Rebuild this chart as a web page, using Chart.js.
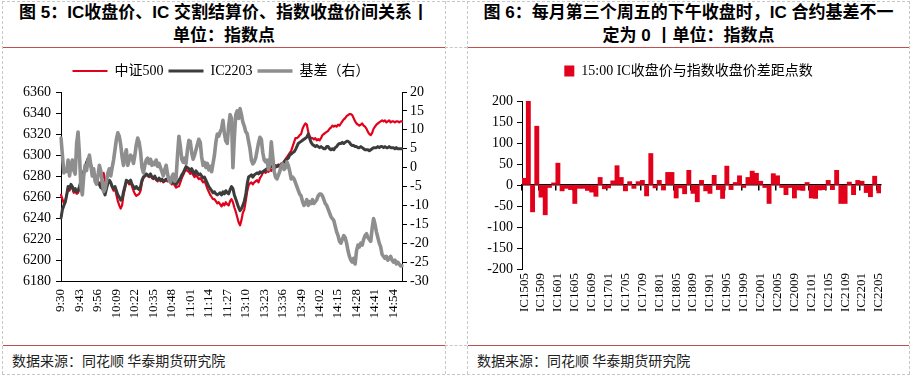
<!DOCTYPE html>
<html><head><meta charset="utf-8">
<script src="https://cdn.jsdelivr.net/npm/chart.js@4.4.1/dist/chart.umd.min.js"></script>
<style>
html,body{margin:0;padding:0;background:#fff;width:913px;height:378px;overflow:hidden;position:relative;font-family:"Liberation Sans","Noto Sans CJK SC",sans-serif;}
.dh{position:absolute;height:0;border-top:1px dashed #c8c8c8;}
.dv{position:absolute;width:0;border-left:1px dashed #c8c8c8;}
.red{position:absolute;height:0;border-top:1px solid #C0504D;}
.title{position:absolute;text-align:center;font-weight:bold;font-size:17px;line-height:23px;color:#000;white-space:nowrap;}
.src{position:absolute;font-family:"Noto Sans CJK SC",sans-serif;font-size:14px;line-height:20px;color:#222;}
.cv{position:absolute;}
</style></head><body>
<div class="dh" style="left:2px;top:1px;width:908px"></div>
<div class="dh" style="left:2px;top:374px;width:908px"></div>
<div class="dh" style="left:445px;top:47px;width:22px"></div>
<div class="dh" style="left:445px;top:345px;width:22px"></div>
<div class="dv" style="left:2px;top:1px;height:373px"></div>
<div class="dv" style="left:445px;top:1px;height:373px"></div>
<div class="dv" style="left:467px;top:1px;height:373px"></div>
<div class="dv" style="left:909px;top:1px;height:373px"></div>
<div class="red" style="left:3px;top:47px;width:442px"></div>
<div class="red" style="left:3px;top:345px;width:442px"></div>
<div class="red" style="left:468px;top:47px;width:441px"></div>
<div class="red" style="left:468px;top:345px;width:441px"></div>
<div class="title" style="left:3px;top:1px;width:442px">图 5：IC收盘价、IC 交割结算价、指数收盘价间关系丨<br>单位：指数点</div>
<div class="title" style="left:467px;top:1px;width:443px">图 6：每月第三个周五的下午收盘时，IC 合约基差不一<br>定为 0 丨单位：指数点</div>
<div class="src" style="left:12px;top:350px">数据来源：同花顺 华泰期货研究院</div>
<div class="src" style="left:477px;top:350px">数据来源：同花顺 华泰期货研究院</div>
<canvas id="c1" class="cv" width="442" height="293" style="left:3px;top:50px;width:442px;height:293px"></canvas>
<canvas id="c2" class="cv" width="443" height="293" style="left:467px;top:50px;width:443px;height:293px"></canvas>
<script>
// ---------- Chart 1 data ----------
const timeLabels = [];
(function(){
  function pad(m){return m<10?'0'+m:''+m;}
  for(let t=9*60+30;t<=11*60+30;t++) timeLabels.push(Math.floor(t/60)+':'+pad(t%60));
  for(let t=13*60+1;t<=15*60;t++) timeLabels.push(Math.floor(t/60)+':'+pad(t%60));
})();
const csi500 = [
6262,6258,6254,6256,6262,6268,6266,6270,6268,6264,
6266,6263,6264,6268,6274,6279,6283,6287,6292,6297,
6296,6291,6286,6281,6279,6278,6275,6273,6272,6278,
6283,6276,6270,6272,6275,6273,6269,6266,6268,6262,
6256,6252,6249,6252,6262,6268,6275,6274,6272,6274,
6270,6266,6263,6261,6262,6263,6266,6274,6278,6280,
6281,6280,6279,6281,6278,6277,6279,6276,6275,6277,
6275,6276,6274,6275,6276,6275,6277,6274,6272,6274,
6271,6269,6270,6270,6274,6278,6281,6284,6286,6285,
6284,6282,6284,6281,6279,6281,6279,6277,6278,6276,
6274,6275,6272,6268,6265,6262,6260,6258,6258,6256,
6254,6255,6253,6251,6254,6252,6255,6253,6252,6256,
6258,6255,6250,6246,6241,6236,6233,6238,6245,6248,
6256,6265,6271,6273,6274,6272,6274,6275,6276,6274,
6278,6280,6283,6284,6283,6285,6284,6286,6285,6287,
6286,6288,6289,6291,6290,6292,6292,6294,6296,6298,
6300,6302,6304,6308,6312,6316,6316,6317,6319,6320,
6325,6328,6330,6329,6322,6318,6316,6316,6315,6316,
6314,6315,6314,6316,6319,6320,6321,6322,6323,6325,
6326,6328,6327,6328,6327,6329,6328,6330,6332,6334,
6335,6337,6338,6339,6339,6338,6335,6332,6330,6329,
6328,6329,6330,6328,6327,6325,6322,6320,6319,6321,
6325,6327,6329,6330,6331,6332,6333,6332,6333,6331,
6332,6333,6331,6332,6332,6331,6332,6332,6331,6332,6332];
const ic2203 = [
6240,6248,6252,6255,6262,6270,6268,6272,6270,6266,
6268,6265,6266,6270,6275,6280,6284,6288,6293,6296,
6295,6290,6285,6280,6278,6277,6274,6272,6269,6268,
6266,6262,6268,6273,6276,6274,6270,6268,6270,6266,
6262,6260,6257,6258,6265,6270,6276,6275,6274,6276,
6272,6270,6268,6270,6268,6267,6270,6276,6279,6280,
6282,6281,6280,6282,6279,6278,6280,6277,6276,6278,
6276,6277,6275,6276,6277,6276,6278,6275,6274,6276,
6273,6272,6274,6276,6278,6281,6283,6286,6289,6288,
6287,6285,6287,6284,6282,6285,6283,6281,6282,6280,
6278,6279,6276,6273,6270,6268,6266,6264,6265,6263,
6262,6263,6264,6262,6265,6263,6266,6264,6263,6267,
6270,6268,6262,6258,6254,6250,6247,6249,6252,6256,
6262,6272,6279,6280,6281,6279,6281,6282,6283,6282,
6284,6283,6284,6285,6286,6287,6286,6288,6289,6289,
6288,6290,6289,6290,6289,6290,6292,6293,6295,6296,
6297,6300,6301,6302,6303,6305,6308,6311,6312,6313,
6314,6315,6316,6317,6320,6316,6312,6310,6309,6308,
6309,6308,6307,6308,6307,6306,6306,6308,6308,6306,
6305,6306,6305,6307,6308,6310,6311,6311,6312,6311,
6312,6313,6313,6312,6310,6309,6309,6308,6308,6307,
6307,6308,6307,6306,6305,6305,6305,6304,6305,6306,
6307,6307,6307,6308,6307,6308,6308,6307,6308,6307,
6307,6308,6307,6307,6307,6306,6307,6306,6306,6306,6306];
const basis = [
7.8,3.3,-1.4,-0.6,-1,2,-2.2,0.6,2,-0.8,
-1.7,6.4,9.4,3.3,-5,-7.2,-2.2,0.6,-0.8,2,
3.3,0.6,-2.2,-0.3,-3.6,-4.4,-2.2,0.6,-0.8,-3.6,
-6.4,-5.6,-3.6,-1.4,-0.3,-2.2,0,2,4.7,7.5,
9.2,8.3,6.1,2.8,0.6,3.3,4.7,0.6,2,3.3,
2.8,1.1,3.3,6.1,7.8,6.7,4.2,0,-1.4,0.6,
2,2.5,1.1,2.2,0.6,1.4,0.8,2,0.3,1.1,
0,-1.1,-2.2,-0.6,0.6,-1.7,-3.3,-3.9,-2.5,-1.7,
-3.6,-2.8,3.3,8.3,5.6,2.2,1.4,2.5,1.1,4.7,
7.2,6.9,3.9,2.2,3.3,4.7,6.1,7.5,6.7,2.8,
0.6,1.4,0,1.1,-0.6,0.3,-1.1,1.1,3.3,6.7,
8.9,8.3,9.4,10.3,12.5,9,7,6.4,11,14,
13,0,8,14,15,13,15.6,14,12,11,
9.5,9,7,5,2,1,1.5,2.5,4.5,6.5,
8,7.5,4,2,1.5,2,-0.5,1,6.8,3,
-1,-2.5,-3,-2,-1,0.5,1,-0.5,0,1.5,
0.5,-1,-3,-2.5,-3,-4,-5,-6,-7,-7.5,
-9,-10,-9.5,-8.5,-10,-9,-9.5,-8.5,-9.5,-9,
-8.5,-7.5,-7,-7,-7.5,-8.5,-9.5,-10,-11,-12,
-13,-13.5,-14,-15.5,-17,-18,-19.5,-20,-19,-18,
-18.5,-20,-22,-23.5,-24.5,-25,-24,-25.5,-22,-20.5,
-21,-20,-20.5,-19,-18,-17.5,-18.5,-19,-19.5,-16,
-13.5,-15,-17,-18.5,-20,-21,-23,-23.5,-24,-23.5,
-24.5,-24,-23.5,-24.5,-25,-24.5,-25.5,-25,-25.5,-26,-26];

// ---------- Chart 2 data ----------
const contracts = [];
(function(){
  for(let y=15;y<=22;y++) for(let m=1;m<=12;m++){
    if(y===15&&m<5) continue; if(y===22&&m>5) continue;
    contracts.push('IC'+y+(m<10?'0'+m:m));
  }
})();
const spread = [
16,200,-64,140,-29,-71,-6,5,52,-14,
-8,-11,-44,-8,-8,-13,-17,-27,18,-9,
-7,10,46,18,-14,8,-8,8,11,-26,
75,-7,11,-12,30,30,-31,-7,-21,35,
-20,-40,11,-14,-20,23,-11,-32,45,-11,
6,22,-6,18,33,28,9,-6,-44,27,
22,-6,-23,-6,-31,-12,-13,6,-31,-32,
-12,-11,11,-11,35,-44,-44,7,-23,11,
9,-18,-28,21,-19];

const RED = '#E2001A';
const SERIF = "'Liberation Serif','Noto Sans CJK SC',serif";
const tickFont = {family: SERIF, size: 14};
const xFont = {family: SERIF, size: 13};

function legendGap(gap){
  return {id:'legendGap', beforeInit(chart){
    const l = chart.legend; if(!l) return;
    const fit = l.fit;
    l.fit = function(){ fit.call(this); this.height += gap; };
  }};
}

new Chart(document.getElementById('c1'), {
  type: 'line',
  data: {labels: timeLabels, datasets: [
    {label:'中证500', data: csi500, borderColor: RED, backgroundColor: RED, borderWidth: 2.2, pointRadius: 0, yAxisID: 'y', order: 3, borderJoinStyle:'round', borderCapStyle:'round'},
    {label:'IC2203', data: ic2203, borderColor: '#3C3C3C', backgroundColor: '#3C3C3C', borderWidth: 3, pointRadius: 0, yAxisID: 'y', order: 2, borderJoinStyle:'round', borderCapStyle:'round'},
    {label:'基差（右）', data: basis, borderColor: '#8E8E8E', backgroundColor: '#8E8E8E', borderWidth: 3.6, pointRadius: 0, yAxisID: 'y1', order: 1, borderJoinStyle:'round', borderCapStyle:'round'}
  ]},
  options: {
    responsive: false, animation: false, devicePixelRatio: 1,
    layout: {padding: {top: 9, left: 0, right: 6, bottom: 0}},
    plugins: {
      legend: {position: 'top', labels: {usePointStyle: true, pointStyle: 'line', pointStyleWidth: 35, font: {family: SERIF, size: 14}, color: '#000', padding: 5,
               sort: (a, b) => a.datasetIndex - b.datasetIndex}},
      tooltip: {enabled: false}
    },
    scales: {
      x: {offset: false, grid: {display: false, drawTicks: false}, border: {display: true, color: '#000', width: 1},
          ticks: {autoSkip: false, maxRotation: 90, minRotation: 90, padding: 8, font: xFont, color: '#000',
                  callback: function(v, i){ return i % 13 === 0 ? timeLabels[i] : ''; }},
          afterFit: function(s){ s.height = 62; }},
      y: {position: 'left', min: 6180, max: 6360,
          ticks: {stepSize: 20, autoSkip: false, font: tickFont, color: '#000', padding: 5, callback: v => String(v)},
          grid: {drawOnChartArea: false, drawTicks: true, tickLength: 5, color: '#000'},
          border: {color: '#000', width: 1},
          afterFit: function(s){ s.width = 58; }},
      y1: {position: 'right', min: -30, max: 20,
          ticks: {stepSize: 5, autoSkip: false, font: tickFont, color: '#000', padding: 3, callback: v => String(v)},
          grid: {drawOnChartArea: false, drawTicks: true, tickLength: 5, color: '#000'},
          border: {color: '#000', width: 1},
          afterFit: function(s){ s.width = 37; }}
    }
  },
  plugins: [legendGap(4)]
});

new Chart(document.getElementById('c2'), {
  type: 'bar',
  data: {labels: contracts, datasets: [
    {label: '15:00 IC收盘价与指数收盘价差距点数', data: spread, backgroundColor: RED, borderWidth: 0, barPercentage: 1.0, categoryPercentage: 1.0}
  ]},
  options: {
    responsive: false, animation: false, devicePixelRatio: 1,
    layout: {padding: {top: 9, left: 0, right: 0, bottom: 0}},
    plugins: {
      legend: {position: 'top', labels: {boxWidth: 10, boxHeight: 11, font: {family: SERIF, size: 14}, color: '#000', padding: 5}},
      tooltip: {enabled: false}
    },
    scales: {
      x: {grid: {display: false, drawTicks: false}, border: {display: false},
          ticks: {autoSkip: false, maxRotation: 90, minRotation: 90, padding: 4, font: xFont, color: '#000',
                  callback: function(v, i){ return i % 4 === 0 ? contracts[i] : ''; }},
          afterFit: function(s){ s.height = 74; }},
      x2: {axis: 'x', type: 'category', position: {y: 0}, offset: true, z: 1,
           ticks: {display: false},
           grid: {offset: true, drawOnChartArea: false, drawTicks: true, tickLength: 5, lineWidth: 1.5,
                  color: c => (c.index % 4 === 0 ? '#000' : 'rgba(0,0,0,0)'),
                  tickColor: c => (c.index % 4 === 0 ? '#000' : 'rgba(0,0,0,0)')},
           border: {display: true, color: '#000', width: 1.5}},
      y: {position: 'left', min: -200, max: 200,
          ticks: {stepSize: 50, autoSkip: false, font: tickFont, color: '#000', padding: 4, callback: v => String(v)},
          grid: {drawOnChartArea: false, drawTicks: true, tickLength: 5, color: '#000'},
          border: {color: '#000', width: 1},
          afterFit: function(s){ s.width = 55; }},
      yR: {position: 'right', display: true, ticks: {display: false}, grid: {display: false, drawTicks: false}, border: {display: false},
          afterFit: function(s){ s.width = 29; }}
    }
  },
  plugins: [legendGap(13)]
});
</script>
</body></html>
